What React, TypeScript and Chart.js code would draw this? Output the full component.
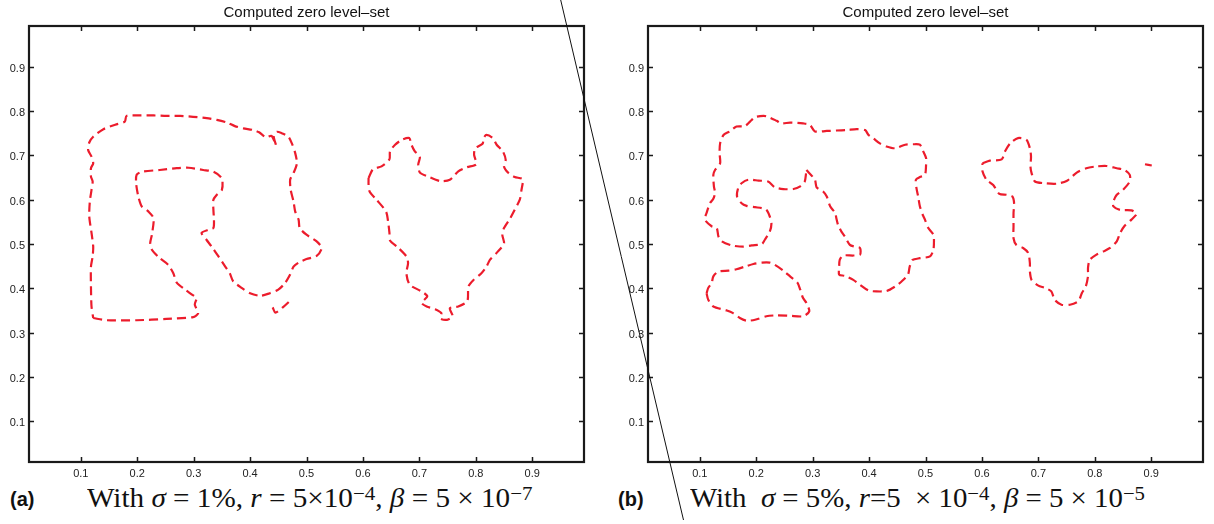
import React, { useEffect, useLayoutEffect, useRef, useState } from "react";
import { Chart, registerables } from "chart.js";

Chart.register(...registerables);

type Pt = [number, number];

// ---------- axes ----------
const TICK_VALUES = [0.1, 0.2, 0.3, 0.4, 0.5, 0.6, 0.7, 0.8, 0.9];
const TICK_LABELS = ["0.1", "0.2", "0.3", "0.4", "0.5", "0.6", "0.7", "0.8", "0.9"];
const AXIS_MIN = 0.0082;
const AXIS_MAX = 0.9918;
const PANEL_TITLE = "Computed zero level\u2013set";

// ---------- panel (a): sigma = 1% ----------
const A_OUTER: Pt[] = [
  [0.122, 0.333], [0.146, 0.328], [0.199, 0.328], [0.252, 0.331], [0.299, 0.335], [0.308, 0.344],
  [0.302, 0.363], [0.305, 0.378], [0.297, 0.386], [0.285, 0.397], [0.270, 0.413], [0.264, 0.434],
  [0.255, 0.453], [0.240, 0.468], [0.226, 0.487], [0.223, 0.502], [0.226, 0.521], [0.229, 0.558],
  [0.220, 0.573], [0.208, 0.585], [0.202, 0.607], [0.198, 0.637], [0.199, 0.656], [0.208, 0.663],
  [0.240, 0.667], [0.270, 0.671], [0.291, 0.672], [0.317, 0.667], [0.335, 0.663], [0.350, 0.648],
  [0.350, 0.622], [0.341, 0.611], [0.335, 0.600], [0.335, 0.577], [0.336, 0.555], [0.335, 0.536],
  [0.326, 0.532], [0.314, 0.525], [0.323, 0.509], [0.332, 0.494], [0.344, 0.472], [0.356, 0.449],
  [0.364, 0.434], [0.370, 0.416], [0.385, 0.401], [0.400, 0.389], [0.418, 0.383], [0.435, 0.389],
  [0.450, 0.397], [0.462, 0.412], [0.471, 0.431], [0.477, 0.449], [0.486, 0.458], [0.500, 0.466],
  [0.518, 0.473], [0.527, 0.491], [0.518, 0.506], [0.500, 0.521], [0.488, 0.536], [0.486, 0.555],
  [0.480, 0.573], [0.477, 0.596], [0.472, 0.622], [0.471, 0.645], [0.477, 0.660], [0.483, 0.682],
  [0.480, 0.705], [0.474, 0.727], [0.468, 0.742], [0.456, 0.750], [0.447, 0.753], [0.442, 0.742],
  [0.446, 0.723], [0.438, 0.744], [0.428, 0.741], [0.416, 0.752], [0.406, 0.757], [0.388, 0.761],
  [0.373, 0.766], [0.359, 0.774], [0.341, 0.780], [0.323, 0.784], [0.299, 0.787], [0.276, 0.789],
  [0.252, 0.789], [0.229, 0.790], [0.205, 0.790], [0.181, 0.789], [0.178, 0.776], [0.161, 0.769],
  [0.140, 0.759], [0.122, 0.742], [0.115, 0.729], [0.113, 0.712], [0.119, 0.697], [0.122, 0.682],
  [0.118, 0.671], [0.118, 0.652], [0.121, 0.641], [0.119, 0.622], [0.116, 0.596], [0.115, 0.562],
  [0.119, 0.525], [0.122, 0.494], [0.121, 0.472], [0.118, 0.449], [0.118, 0.404], [0.119, 0.359],
];
const A_SPUR: Pt[] = [[0.440, 0.357], [0.445, 0.345], [0.458, 0.357], [0.470, 0.371]];
const A_HEART: Pt[] = [
  [0.610, 0.649], [0.618, 0.669], [0.633, 0.675], [0.647, 0.691], [0.648, 0.709], [0.657, 0.724],
  [0.669, 0.735], [0.682, 0.739], [0.686, 0.724], [0.692, 0.709], [0.701, 0.697], [0.698, 0.679],
  [0.701, 0.661], [0.716, 0.652], [0.737, 0.642], [0.754, 0.645], [0.769, 0.664], [0.784, 0.673],
  [0.801, 0.680], [0.797, 0.701], [0.799, 0.716], [0.812, 0.726], [0.814, 0.739], [0.819, 0.746],
  [0.830, 0.739], [0.837, 0.724], [0.848, 0.709], [0.853, 0.690], [0.850, 0.675], [0.858, 0.660],
  [0.869, 0.651], [0.883, 0.646], [0.881, 0.622], [0.878, 0.600], [0.869, 0.577], [0.861, 0.558],
  [0.850, 0.536], [0.847, 0.521], [0.850, 0.501], [0.837, 0.480], [0.825, 0.464], [0.819, 0.449],
  [0.810, 0.434], [0.796, 0.419], [0.787, 0.404], [0.785, 0.371], [0.769, 0.359], [0.754, 0.355],
  [0.759, 0.337], [0.749, 0.329], [0.737, 0.332], [0.739, 0.344], [0.728, 0.353], [0.713, 0.359],
  [0.704, 0.367], [0.714, 0.382], [0.704, 0.393], [0.683, 0.408], [0.677, 0.434], [0.680, 0.457],
  [0.677, 0.472], [0.663, 0.491], [0.648, 0.508], [0.647, 0.525], [0.645, 0.547], [0.641, 0.573],
  [0.624, 0.600], [0.612, 0.618], [0.610, 0.634],
];

// ---------- panel (b): sigma = 5% ----------
const B_MAIN: Pt[] = [
  [0.289, 0.667], [0.304, 0.645], [0.307, 0.628], [0.319, 0.618], [0.325, 0.607], [0.331, 0.585],
  [0.340, 0.570], [0.342, 0.558], [0.345, 0.543], [0.351, 0.528], [0.357, 0.517], [0.366, 0.498],
  [0.375, 0.494], [0.384, 0.491], [0.384, 0.476], [0.372, 0.474], [0.354, 0.474], [0.348, 0.464],
  [0.347, 0.449], [0.347, 0.431], [0.357, 0.428], [0.372, 0.419], [0.384, 0.408], [0.399, 0.395],
  [0.413, 0.393], [0.431, 0.394], [0.446, 0.404], [0.458, 0.416], [0.469, 0.431], [0.472, 0.449],
  [0.477, 0.464], [0.490, 0.468], [0.508, 0.472], [0.514, 0.487], [0.515, 0.506], [0.514, 0.521],
  [0.505, 0.536], [0.499, 0.555], [0.495, 0.566], [0.490, 0.585], [0.487, 0.607], [0.484, 0.626],
  [0.483, 0.645], [0.490, 0.651], [0.499, 0.656], [0.501, 0.678], [0.501, 0.694], [0.496, 0.709],
  [0.490, 0.724], [0.478, 0.725], [0.464, 0.724], [0.446, 0.716], [0.431, 0.720], [0.419, 0.727],
  [0.407, 0.739], [0.399, 0.746], [0.393, 0.757], [0.378, 0.759], [0.360, 0.757], [0.342, 0.756],
  [0.325, 0.755], [0.304, 0.754], [0.295, 0.769], [0.283, 0.772], [0.260, 0.774], [0.245, 0.772],
  [0.236, 0.778], [0.221, 0.787], [0.213, 0.789], [0.198, 0.786], [0.189, 0.776], [0.180, 0.766],
  [0.165, 0.765], [0.153, 0.754], [0.142, 0.746], [0.136, 0.727], [0.135, 0.705], [0.136, 0.682],
  [0.127, 0.667], [0.124, 0.656], [0.125, 0.630], [0.127, 0.615], [0.124, 0.602], [0.118, 0.592],
  [0.112, 0.570], [0.109, 0.555], [0.121, 0.540], [0.130, 0.536], [0.133, 0.517], [0.139, 0.506],
  [0.156, 0.497], [0.177, 0.494], [0.192, 0.497], [0.210, 0.500], [0.215, 0.509], [0.224, 0.528],
  [0.227, 0.547], [0.224, 0.562], [0.218, 0.577], [0.210, 0.581], [0.198, 0.583], [0.183, 0.586],
  [0.174, 0.592], [0.166, 0.607], [0.168, 0.626], [0.174, 0.637], [0.186, 0.645], [0.204, 0.643],
  [0.221, 0.641], [0.233, 0.628], [0.248, 0.624], [0.266, 0.624], [0.278, 0.630], [0.286, 0.641],
  [0.288, 0.656],
];
const B_LOWER: Pt[] = [
  [0.112, 0.389], [0.115, 0.374], [0.124, 0.359], [0.148, 0.350], [0.159, 0.344], [0.171, 0.333],
  [0.183, 0.327], [0.198, 0.329], [0.218, 0.337], [0.236, 0.339], [0.260, 0.338], [0.283, 0.337],
  [0.294, 0.348], [0.289, 0.367], [0.283, 0.378], [0.278, 0.397], [0.273, 0.413], [0.260, 0.427],
  [0.248, 0.440], [0.233, 0.453], [0.224, 0.458], [0.210, 0.458], [0.195, 0.455], [0.180, 0.449],
  [0.165, 0.443], [0.151, 0.440], [0.133, 0.438], [0.124, 0.427], [0.121, 0.412], [0.115, 0.401],
];
const B_RIGHT: Pt[] = [
  [0.601, 0.682], [0.614, 0.688], [0.635, 0.691], [0.641, 0.709], [0.650, 0.727], [0.664, 0.739],
  [0.679, 0.735], [0.685, 0.716], [0.687, 0.697], [0.686, 0.675], [0.688, 0.660], [0.694, 0.641],
  [0.712, 0.637], [0.732, 0.636], [0.750, 0.642], [0.768, 0.661], [0.785, 0.671], [0.803, 0.675],
  [0.821, 0.676], [0.839, 0.671], [0.853, 0.667], [0.862, 0.656], [0.862, 0.641], [0.850, 0.622],
  [0.839, 0.611], [0.833, 0.596], [0.833, 0.585], [0.845, 0.577], [0.865, 0.576], [0.874, 0.568],
  [0.865, 0.555], [0.853, 0.541], [0.845, 0.525], [0.839, 0.506], [0.827, 0.491], [0.815, 0.483],
  [0.803, 0.476], [0.791, 0.464], [0.788, 0.446], [0.788, 0.427], [0.784, 0.404], [0.777, 0.389],
  [0.771, 0.371], [0.756, 0.363], [0.741, 0.363], [0.729, 0.374], [0.723, 0.393], [0.712, 0.401],
  [0.700, 0.406], [0.688, 0.419], [0.685, 0.438], [0.685, 0.457], [0.682, 0.480], [0.673, 0.491],
  [0.661, 0.498], [0.656, 0.513], [0.656, 0.540], [0.656, 0.570], [0.657, 0.592], [0.654, 0.607],
  [0.644, 0.611], [0.631, 0.613], [0.620, 0.633], [0.608, 0.645], [0.601, 0.664],
];
const B_TAIL: Pt[] = [[0.889, 0.680], [0.901, 0.677]];

// ---------- styling ----------
const RED = "#ec1c2c";
const INK = "#1a1a1a";
const SANS = '"Liberation Sans", Arial, Helvetica, sans-serif';
const SERIF = '"Liberation Serif", "Times New Roman", serif';

const framePlugin = {
  id: "matlabFrame",
  afterDatasetsDraw(chart: any) {
    const { ctx, chartArea, scales } = chart;
    const { left, top, right, bottom } = chartArea;
    const x = scales.x;
    const y = scales.y;
    const tick = 5;
    ctx.save();
    ctx.strokeStyle = INK;
    ctx.lineWidth = 1.5;
    ctx.beginPath();
    for (const v of TICK_VALUES) {
      const px = Math.round(x.getPixelForValue(v)) + 0.5;
      ctx.moveTo(px, bottom);
      ctx.lineTo(px, bottom - tick);
      ctx.moveTo(px, top);
      ctx.lineTo(px, top + tick);
      const py = Math.round(y.getPixelForValue(v)) + 0.5;
      ctx.moveTo(left, py);
      ctx.lineTo(left + tick, py);
      ctx.moveTo(right, py);
      ctx.lineTo(right - tick, py);
    }
    ctx.stroke();
    ctx.lineWidth = 2.2;
    ctx.strokeRect(left, top, right - left, bottom - top);
    ctx.restore();
  },
};

function toDataset(pts: Pt[], closed: boolean) {
  const data = pts.map(([x, y]) => ({ x, y }));
  if (closed) data.push({ x: pts[0][0], y: pts[0][1] });
  return {
    data,
    showLine: true,
    borderColor: RED,
    backgroundColor: RED,
    borderWidth: 2.2,
    borderDash: [9, 5],
    pointRadius: 0,
    tension: 0.25,
    fill: false,
  };
}

function makeConfig(loops: Pt[][], open: Pt[][], padRight: number): any {
  return {
    type: "scatter",
    data: {
      datasets: [...loops.map((l) => toDataset(l, true)), ...open.map((l) => toDataset(l, false))],
    },
    options: {
      responsive: false,
      maintainAspectRatio: false,
      animation: false,
      events: [],
      layout: { padding: { left: 0, right: padRight, top: 0, bottom: 0 } },
      plugins: {
        legend: { display: false },
        tooltip: { enabled: false },
        title: {
          display: true,
          text: PANEL_TITLE,
          fullSize: false,
          color: "#111",
          font: { family: SANS, size: 15, weight: "normal" },
          padding: { top: 4, bottom: 4 },
        },
      },
      scales: {
        x: {
          type: "linear",
          min: AXIS_MIN,
          max: AXIS_MAX,
          grid: { display: false, drawTicks: false },
          border: { display: false },
          ticks: {
            padding: 5,
            color: "#222",
            font: { family: SANS, size: 11 },
            maxRotation: 0,
            autoSkip: false,
            callback: (_v: number, i: number) => TICK_LABELS[i],
          },
          afterBuildTicks: (s: any) => {
            s.ticks = TICK_VALUES.map((v) => ({ value: v }));
          },
          afterFit: (s: any) => {
            s.height = 20;
          },
        },
        y: {
          type: "linear",
          min: AXIS_MIN,
          max: AXIS_MAX,
          grid: { display: false, drawTicks: false },
          border: { display: false },
          ticks: {
            padding: 4,
            labelOffset: 2,
            color: "#222",
            font: { family: SANS, size: 11 },
            autoSkip: false,
            callback: (_v: number, i: number) => TICK_LABELS[i],
          },
          afterBuildTicks: (s: any) => {
            s.ticks = TICK_VALUES.map((v) => ({ value: v }));
          },
          afterFit: (s: any) => {
            s.width = 29;
          },
        },
      },
    },
    plugins: [framePlugin],
  };
}

function Panel(props: { left: number; width: number; loops: Pt[][]; open: Pt[][]; padRight: number }) {
  const ref = useRef<HTMLCanvasElement>(null);
  useEffect(() => {
    if (!ref.current) return;
    const chart = new Chart(ref.current, makeConfig(props.loops, props.open, props.padRight));
    return () => chart.destroy();
  }, []);
  return (
    <canvas
      ref={ref}
      width={props.width}
      height={482}
      style={{ position: "absolute", left: props.left, top: 0, width: props.width, height: 482, display: "block" }}
    />
  );
}

const supStyle: React.CSSProperties = {
  fontSize: "0.72em",
  position: "relative",
  top: "-0.36em",
  verticalAlign: "baseline",
  lineHeight: 0,
};

function Caption(props: { left: number; width: number; children: React.ReactNode }) {
  const ref = useRef<HTMLDivElement>(null);
  const [sx, setSx] = useState(1);
  useLayoutEffect(() => {
    if (ref.current) {
      const w = ref.current.offsetWidth;
      if (w > 0) setSx(props.width / w);
    }
  }, [props.width]);
  return (
    <div
      ref={ref}
      style={{
        position: "absolute",
        left: props.left,
        top: 485.4,
        whiteSpace: "nowrap",
        fontFamily: SERIF,
        fontSize: 27,
        lineHeight: "27px",
        color: "#111",
        transform: `scaleX(${sx})`,
        transformOrigin: "0 0",
      }}
    >
      {props.children}
    </div>
  );
}

const labelStyle = (left: number): React.CSSProperties => ({
  position: "absolute",
  left,
  top: 488.6,
  fontFamily: SANS,
  fontWeight: "bold",
  fontSize: 20,
  lineHeight: "20px",
  color: "#111",
});

export default function App() {
  return (
    <div
      style={{
        position: "fixed",
        left: 0,
        top: 0,
        width: 1214,
        height: 524,
        overflow: "hidden",
        background: "#fff",
      }}
    >
      <Panel left={0} width={600} loops={[A_OUTER, A_HEART]} open={[A_SPUR]} padRight={16} />
      <Panel left={619} width={595} loops={[B_MAIN, B_LOWER, B_RIGHT]} open={[B_TAIL]} padRight={11} />
      <div style={labelStyle(10)}>(a)</div>
      <div style={labelStyle(618)}>(b)</div>
      <Caption left={87} width={445}>
        With <i>σ</i> = 1%, <i>r</i> = 5×10<span style={supStyle}>−4</span>, <i>β</i> = 5 × 10
        <span style={supStyle}>−7</span>
      </Caption>
      <Caption left={690} width={455}>
        With&nbsp; <i>σ</i> = 5%, <i>r</i>=5&nbsp; × 10<span style={supStyle}>−4</span>, <i>β</i> = 5 × 10
        <span style={supStyle}>−5</span>
      </Caption>
      <svg
        width={1214}
        height={524}
        style={{ position: "absolute", left: 0, top: 0, pointerEvents: "none" }}
      >
        <line x1={560.7} y1={0} x2={683.5} y2={520} stroke="#111" strokeWidth={1} />
      </svg>
    </div>
  );
}
